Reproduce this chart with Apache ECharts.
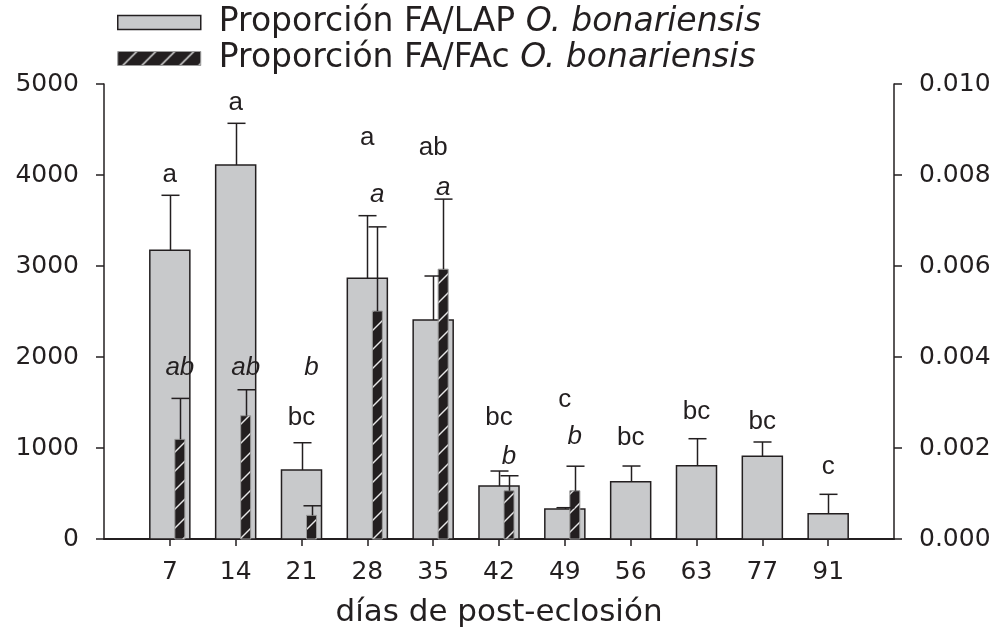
<!DOCTYPE html>
<html><head><meta charset="utf-8">
<script src="https://cdn.jsdelivr.net/npm/echarts@6/dist/echarts.min.js"></script>
<style>html,body{margin:0;padding:0;background:#fff}#c{width:1000px;height:635px}</style>
</head><body><div id="c"></div>
<script>
// ---- data ----
const days = ['7','14','21','28','35','42','49','56','63','77','91'];
const lapMean   = [3173, 4110, 758, 2865, 2407, 582, 330, 630, 805, 909, 278];
const lapErrTop = [3777, 4568, 1058, 3553, 2890, 747, 344, 802, 1102, 1066, 491];
const facMean   = [0.00219, 0.00271, 0.00052, 0.00501, 0.00593, 0.00106, 0.00106, null, null, null, null];
const facErrTop = [0.00309, 0.00328, 0.00073, 0.00686, 0.00747, 0.00139, 0.00160, null, null, null, null];
const lapLetters  = ['a','a','bc','a','ab','bc','c','bc','bc','bc','c'];
const lapLetterAt = [4000, 4790, 1330, 4410, 4300, 1330, 1530, 1110, 1400, 1290, 795];
const facLetters  = ['ab','ab','b','a','a','b','b'];
const facLetterAt = [0.00376, 0.00376, 0.00376, 0.00756, 0.00773, 0.00180, 0.00225];
const nameLAP = 'Proporción FA/LAP O. bonariensis';
const nameFAc = 'Proporción FA/FAc O. bonariensis';
const xTitle = 'días de post-eclosión';

// ---- styles ----
const INK = '#231f20';
const GREY = '#c8c9cb';
function makeHatch() {
  const s = 19;
  const c = document.createElement('canvas');
  c.width = s; c.height = s;
  const g = c.getContext('2d');
  g.fillStyle = INK; g.fillRect(0, 0, s, s);
  g.strokeStyle = '#e6e6e6'; g.lineWidth = 1.4;
  for (const o of [-s, 0, s]) {
    g.beginPath(); g.moveTo(o - 2, s + 2); g.lineTo(o + s + 2, -2); g.stroke();
  }
  return c;
}
const hatch = { image: makeHatch(), repeat: 'repeat' };

const idx = days.map((d, i) => i + 1);
const lapData = lapMean.map((v, i) => [i + 1, v]);
const lapErr = lapMean.map((v, i) => [i + 1, v, lapErrTop[i]]);
const facData = facMean.map((v, i) => [i + 1, v]).filter(d => d[1] != null);
const facErr = facMean.map((v, i) => [i + 1, v, facErrTop[i]]).filter(d => d[1] != null);
const lapLab = lapLetterAt.map((v, i) => [i + 1, v]);
const facLab = facLetterAt.map((v, i) => [i + 1, v]);

function barItem(offsetFrac, widthFrac, style) {
  return function (params, api) {
    const x = api.value(0), v = api.value(1);
    const base = api.coord([x, 0]);
    const top = api.coord([x, v]);
    const band = api.size([1, 0])[0];
    const w = band * widthFrac;
    const cx = base[0] + band * offsetFrac;
    return { type: 'rect', shape: { x: cx - w / 2, y: top[1], width: w, height: base[1] - top[1] }, style: style };
  };
}
function errItem(offsetFrac) {
  return function (params, api) {
    const x = api.value(0);
    const b = api.coord([x, api.value(1)]);
    const t = api.coord([x, api.value(2)]);
    const band = api.size([1, 0])[0];
    const cx = Math.round(b[0] + band * offsetFrac) + 0.5;
    const h = band * 0.137;
    return { type: 'group', children: [
      { type: 'line', shape: { x1: cx, y1: b[1], x2: cx, y2: t[1] }, style: { stroke: INK, lineWidth: 1.5 } },
      { type: 'line', shape: { x1: cx - h, y1: t[1], x2: cx + h, y2: t[1] }, style: { stroke: INK, lineWidth: 1.5 } }
    ]};
  };
}
function letterItem(texts, offsetFrac, italic) {
  return function (params, api) {
    const p = api.coord([api.value(0), api.value(1)]);
    const band = api.size([1, 0])[0];
    return { type: 'text', x: p[0] + band * offsetFrac, y: p[1], style: {
      text: texts[params.dataIndex], fill: INK, fontSize: 26, fontFamily: 'Liberation Sans',
      fontStyle: italic ? 'italic' : 'normal', align: 'center', verticalAlign: 'middle' } };
  };
}

const axisFont = { fontSize: 25, fontFamily: 'DejaVu Sans', color: INK };
const chart = echarts.init(document.getElementById('c'), null, { renderer: 'canvas' });
chart.setOption({
  animation: false,
  backgroundColor: '#fff',
  grid: { left: 104, right: 106, top: 84, bottom: 96 },
  legend: {
    orient: 'vertical', left: 117, top: 6, padding: 0, itemGap: 3,
    itemWidth: 83, itemHeight: 14, selectedMode: false,
    data: [
      { name: nameLAP, icon: 'rect', itemStyle: { color: GREY, borderColor: INK, borderWidth: 1.5 } },
      { name: nameFAc, icon: 'rect', itemStyle: { color: hatch, borderColor: '#9a9a9a', borderWidth: 1 } }
    ],
    formatter: function (name) {
      const k = name.indexOf(' O. ');
      return '{n|' + name.slice(0, k + 1) + '}{i|' + name.slice(k + 1) + '}';
    },
    textStyle: {
      padding: [0, 0, 0, 13],
      rich: {
        n: { fontSize: 33, fontFamily: 'DejaVu Sans', color: INK },
        i: { fontSize: 33, fontFamily: 'DejaVu Sans', fontStyle: 'italic', color: INK }
      }
    }
  },
  xAxis: {
    type: 'value', min: 0, max: 12, interval: 1,
    name: xTitle, nameLocation: 'middle', nameGap: 58,
    nameTextStyle: { fontSize: 31, fontFamily: 'DejaVu Sans', color: INK },
    axisLine: { show: true, onZero: false, lineStyle: { color: INK, width: 2 } },
    axisTick: { show: true, customValues: idx, length: 7, lineStyle: { color: INK, width: 1.5 } },
    axisLabel: Object.assign({ customValues: idx, margin: 21, formatter: v => days[v - 1] || '' }, axisFont),
    splitLine: { show: false }
  },
  yAxis: [
    {
      type: 'value', min: 0, max: 5000, interval: 1000, position: 'left',
      axisLine: { show: true, lineStyle: { color: INK, width: 1.5 } },
      axisTick: { show: true, length: 8, lineStyle: { color: INK, width: 1.5 } },
      axisLabel: Object.assign({ margin: 25, formatter: v => String(v) }, axisFont),
      splitLine: { show: false }
    },
    {
      type: 'value', min: 0, max: 0.01, interval: 0.002, position: 'right',
      axisLine: { show: true, lineStyle: { color: INK, width: 1.5 } },
      axisTick: { show: true, length: 8, lineStyle: { color: INK, width: 1.5 } },
      axisLabel: Object.assign({ margin: 25, formatter: v => v.toFixed(3) }, axisFont),
      splitLine: { show: false }
    }
  ],
  series: [
    { name: nameLAP, type: 'custom', yAxisIndex: 0, z: 2, data: lapData,
      itemStyle: { color: GREY, borderColor: INK, borderWidth: 1.5 },
      renderItem: barItem(0, 0.608, { fill: GREY, stroke: INK, lineWidth: 1.5 }) },
    { name: nameFAc, type: 'custom', yAxisIndex: 1, z: 3, data: facData,
      itemStyle: { color: hatch, borderColor: '#9a9a9a', borderWidth: 1 },
      renderItem: barItem(0.152, 0.152, { fill: hatch, stroke: '#9a9a9a', lineWidth: 1 }) },
    { type: 'custom', yAxisIndex: 0, z: 4, data: lapErr, renderItem: errItem(0) },
    { type: 'custom', yAxisIndex: 1, z: 4, data: facErr, renderItem: errItem(0.152) },
    { type: 'custom', yAxisIndex: 0, z: 5, data: lapLab, renderItem: letterItem(lapLetters, 0, false) },
    { type: 'custom', yAxisIndex: 1, z: 5, data: facLab, renderItem: letterItem(facLetters, 0.152, true) }
  ]
});
</script>
</body></html>
